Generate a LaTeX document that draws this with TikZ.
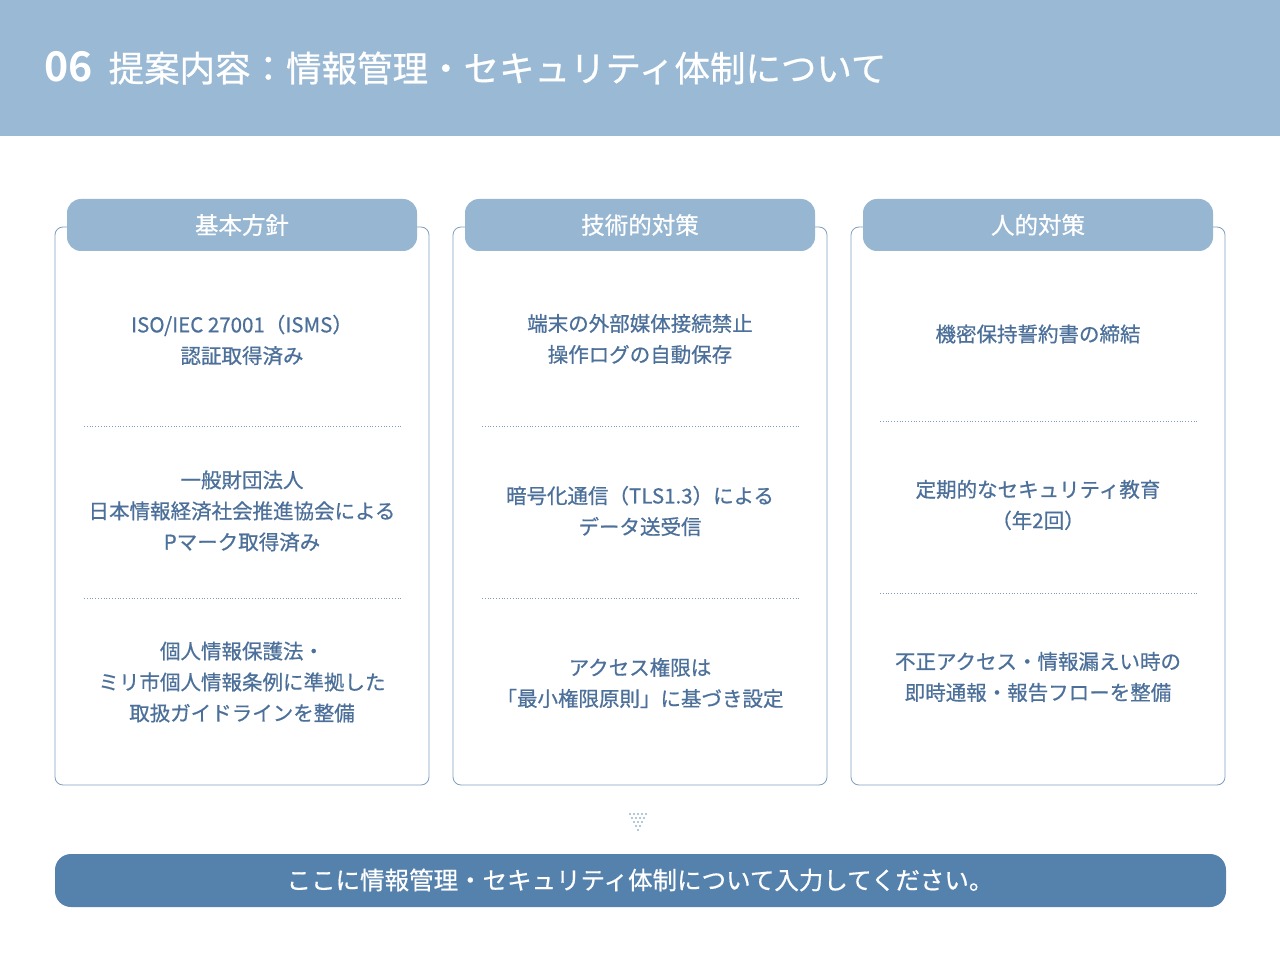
\documentclass[tikz,border=0pt]{standalone}
\usepackage{fontspec}
\setmainfont{Noto Sans CJK JP}[FakeBold=0.7]
\newfontfamily\jpb{Noto Sans CJK JP Bold}
\definecolor{hdr}{HTML}{9AB9D4}
\definecolor{tab}{HTML}{96B6D2}
\definecolor{bord}{HTML}{7E9FC2}
\definecolor{txt}{HTML}{4C7099}
\definecolor{bar}{HTML}{5581AD}
\definecolor{dotc}{HTML}{9DB3CC}
\begin{document}
\begin{tikzpicture}[x=1pt,y=-1pt,
  tabbox/.style={fill=tab,draw=none},
  tabtxt/.style={text=white,font=\fontsize{23.5}{26}\selectfont},
  body/.style={text=txt,font=\fontsize{20.5}{31}\selectfont,align=center},
  sep/.style={txt!70,dotted,line width=0.8pt}]
\useasboundingbox (0,0) rectangle (1280,960);
\fill[hdr] (0,0) rectangle (1280,136);
\node[anchor=west,text=white,inner sep=0] (title) at (44,68) {{\jpb\fontsize{41}{44}\selectfont 06}\hspace{16pt}{\fontsize{35.5}{40}\selectfont 提案内容：情報管理・セキュリティ体制について}};
\foreach \i/\x/\h in {0/55/基本方針,1/453/技術的対策,2/851/人的対策}{
  \draw[bord,line width=0.8pt,rounded corners=8] (\x,227) rectangle (\x+374,785);
  \fill[tab] (\x+12,199) [rounded corners=14] -- (\x+12,251) -- (\x+362,251) [rounded corners=14]-- (\x+362,199) [rounded corners=14] -- cycle;
  \node[tabtxt] (tab\i) at (\x+187,225) {\h};
}
% column 1
\node[body] (a1) at (242,340) {ISO/IEC 27001（ISMS）\\認証取得済み};
\draw[sep] (84,426) -- (403,426);
\node[body] (a2) at (242,511) {一般財団法人\\日本情報経済社会推進協会による\\Pマーク取得済み};
\draw[sep] (84,598) -- (403,598);
\node[body] (a3) at (242,682) {個人情報保護法・\\ミリ市個人情報条例に準拠した\\取扱ガイドラインを整備};
% column 2
\node[body] (b1) at (640,339) {端末の外部媒体接続禁止\\操作ログの自動保存};
\draw[sep] (482,426) -- (801,426);
\node[body] (b2) at (640,511) {暗号化通信（TLS1.3）による\\データ送受信};
\draw[sep] (482,598) -- (801,598);
\node[body] (b3) at (640,683) {アクセス権限は\\「最小権限原則」に基づき設定};
% column 3
\node[body] (c1) at (1038,334) {機密保持誓約書の締結};
\draw[sep] (880,421) -- (1199,421);
\node[body] (c2) at (1038,505) {定期的なセキュリティ教育\\（年2回）};
\draw[sep] (880,593) -- (1199,593);
\node[body] (c3) at (1038,677) {不正アクセス・情報漏えい時の\\即時通報・報告フローを整備};
% dots
\foreach \r in {0,...,4}{
  \pgfmathtruncatemacro{\n}{4-\r}
  \foreach \k in {0,...,\n}{
    \fill[dotc] (638-2*\n+4*\k,814+4*\r) circle (1.1);
  }
}
\fill[bar] (55,854) [rounded corners=16] rectangle (1226,907);
\node[text=white,font=\fontsize{24.5}{28}\selectfont] (foot) at (640,880) {ここに情報管理・セキュリティ体制について入力してください。};
\end{tikzpicture}
\end{document}
